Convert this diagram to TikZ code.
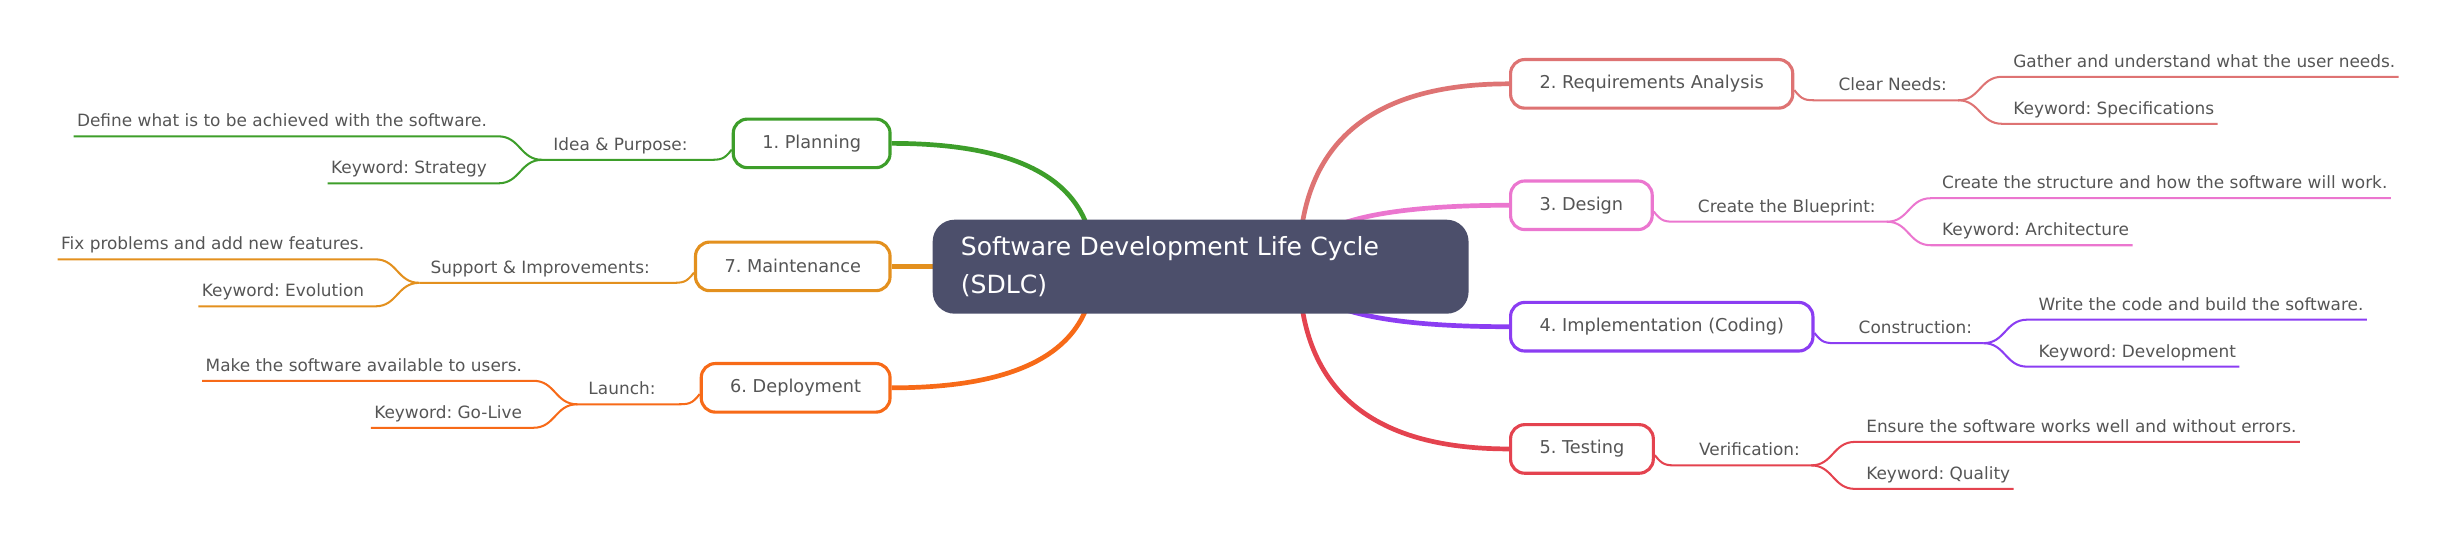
\documentclass[tikz,border=0pt]{standalone}
\usepackage{fontspec}
\setmainfont{DejaVu Sans}
\frenchspacing
\pgfdeclarelayer{bg}
\pgfsetlayers{bg,main}
\definecolor{txt}{HTML}{555555}
\definecolor{rootc}{HTML}{4C4F6B}
\definecolor{cplan}{HTML}{3D9E2A}
\definecolor{cmaint}{HTML}{E3901E}
\definecolor{cdep}{HTML}{F76A18}
\definecolor{creq}{HTML}{DE7373}
\definecolor{cdes}{HTML}{EB76CF}
\definecolor{cimpl}{HTML}{8B3DF2}
\definecolor{ctest}{HTML}{E4434F}
\tikzset{
 box/.style={rounded corners=9pt, line width=2pt, fill=white, minimum height=31pt, inner xsep=18.5pt, inner ysep=0pt, font=\fontsize{11.3}{13}\selectfont, text=txt},
 lab/.style={inner sep=0pt, font=\fontsize{10.8}{13}\selectfont, text=txt},
 rlink/.style={line width=3pt},
 slink/.style={line width=1.3pt},
 rootbox/.style={fill=rootc, rounded corners=14pt, text=white, minimum height=60pt, text width=306pt, align=left, inner xsep=18pt, inner ysep=0pt, font=\fontsize{16}{24}\selectfont},
}
\newcommand{\RBr}[7]{%
 \node[box,draw=#2,anchor=west] (#1) at (963,#3) {#4};
 \pgfmathsetmacro\cya{170+2/3*(#3-170)}%
 \begin{pgfonlayer}{bg}\draw[rlink,draw=#2] (rR) .. controls (829,\cya) and (873.7,#3) .. (#1.west);\end{pgfonlayer}
 \node[lab,anchor=base west] (#1l) at ([xshift=28pt,yshift=-4.5pt]#1.east) {#5};
 \coordinate (#1a) at ([xshift=15pt,yshift=-10.5pt]#1.east);
 \coordinate (#1s) at ([xshift=7pt,yshift=-6pt]#1l.base east);
 \coordinate (#1o) at ([yshift=-4pt]#1.east);
 \draw[slink,draw=#2] (#1o) .. controls +(5,6.5) and +(-8,0) .. (#1a) -- (#1s);
 \node[lab,anchor=base west] (#1t) at ([xshift=35pt,yshift=21pt]#1s) {#6};
 \node[lab,anchor=base west] (#1k) at ([xshift=35pt,yshift=-9pt]#1s) {#7};
 \draw[slink,draw=#2] (#1s) .. controls +(14,0) and +(-14,0) .. ([xshift=28pt,yshift=15pt]#1s) -- ([xshift=2pt,yshift=-6pt]#1t.base east);
 \draw[slink,draw=#2] (#1s) .. controls +(14,0) and +(-14,0) .. ([xshift=28pt,yshift=-15pt]#1s) -- ([xshift=2pt,yshift=-6pt]#1k.base east);
}
\newcommand{\LBr}[7]{%
 \node[box,draw=#2,anchor=east] (#1) at (569,#3) {#4};
 \pgfmathsetmacro\cya{170+2/3*(#3-170)}%
 \begin{pgfonlayer}{bg}\draw[rlink,draw=#2] (rL) .. controls (698,\cya) and (655,#3) .. (#1.east);\end{pgfonlayer}
 \node[lab,anchor=base east] (#1l) at ([xshift=-28pt,yshift=-4.5pt]#1.west) {#5};
 \coordinate (#1a) at ([xshift=-15pt,yshift=-10.5pt]#1.west);
 \coordinate (#1s) at ([xshift=-7pt,yshift=-6pt]#1l.base west);
 \coordinate (#1o) at ([yshift=-4pt]#1.west);
 \draw[slink,draw=#2] (#1o) .. controls +(-5,6.5) and +(8,0) .. (#1a) -- (#1s);
 \node[lab,anchor=base east] (#1t) at ([xshift=-35pt,yshift=21pt]#1s) {#6};
 \node[lab,anchor=base east] (#1k) at ([xshift=-35pt,yshift=-9pt]#1s) {#7};
 \draw[slink,draw=#2] (#1s) .. controls +(-14,0) and +(14,0) .. ([xshift=-28pt,yshift=15pt]#1s) -- ([xshift=-2pt,yshift=-6pt]#1t.base west);
 \draw[slink,draw=#2] (#1s) .. controls +(-14,0) and +(14,0) .. ([xshift=-28pt,yshift=-15pt]#1s) -- ([xshift=-2pt,yshift=-6pt]#1k.base west);
}
\begin{document}
\begin{tikzpicture}[x=1pt,y=-1pt]
\useasboundingbox (0,0) rectangle (1568,340);
\coordinate (rR) at (829,170);
\coordinate (rL) at (698,170);
\node[rootbox,anchor=north west] (root) at (595,140) {Software Development Life Cycle\\(SDLC)};
\RBr{req}{creq}{53.5}{2. Requirements Analysis}{Clear Needs:}{Gather and understand what the user needs.}{Keyword: Specifications}
\RBr{des}{cdes}{131}{3. Design}{Create the Blueprint:}{Create the structure and how the software will work.}{Keyword: Architecture}
\RBr{impl}{cimpl}{208.5}{4. Implementation (Coding)}{Construction:}{Write the code and build the software.}{Keyword: Development}
\RBr{test}{ctest}{286.5}{5. Testing}{Verification:}{Ensure the software works well and without errors.}{Keyword: Quality}
\LBr{plan}{cplan}{91.5}{1. Planning}{Idea \& Purpose:}{Define what is to be achieved with the software.}{Keyword: Strategy}
\LBr{maint}{cmaint}{170}{7. Maintenance}{Support \& Improvements:}{Fix problems and add new features.}{Keyword: Evolution}
\LBr{dep}{cdep}{247.5}{6. Deployment}{Launch:}{Make the software available to users.}{Keyword: Go-Live}
\end{tikzpicture}
\end{document}
